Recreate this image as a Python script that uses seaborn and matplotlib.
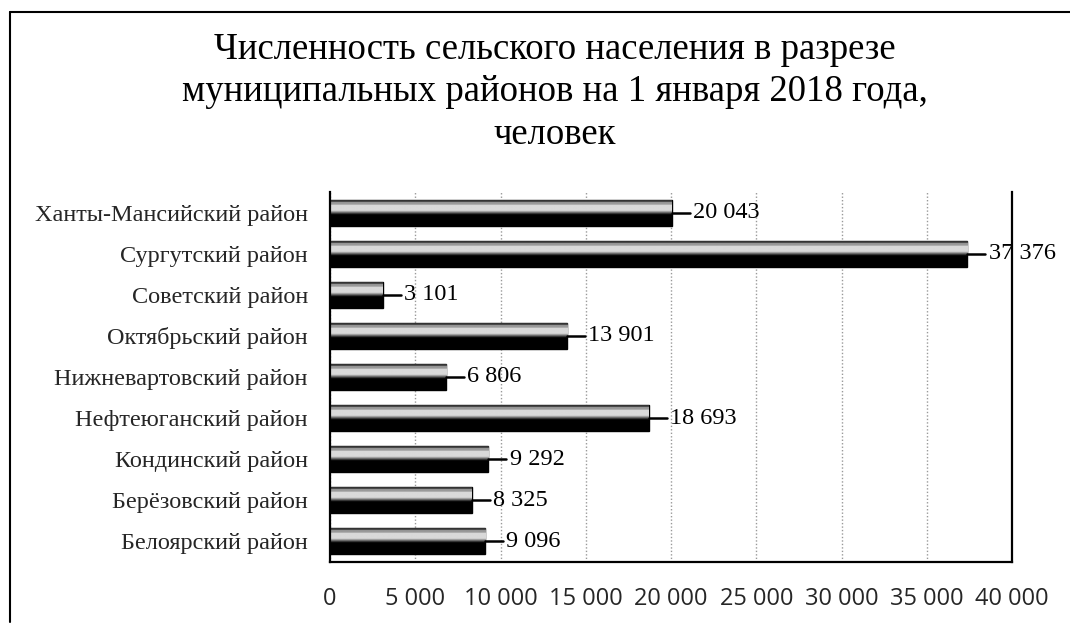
import numpy as np
import pandas as pd
import matplotlib
matplotlib.use("Agg")
import matplotlib.pyplot as plt
from matplotlib.lines import Line2D
import seaborn as sns

categories = ["Ханты-Мансийский район", "Сургутский район", "Советский район",
              "Октябрьский район", "Нижневартовский район", "Нефтеюганский район",
              "Кондинский район", "Берёзовский район", "Белоярский район"]
values = [20043, 37376, 3101, 13901, 6806, 18693, 9292, 8325, 9096]
value_labels = ["20 043", "37 376", "3 101", "13 901", "6 806", "18 693", "9 292", "8 325", "9 096"]
x_ticks = [0, 5000, 10000, 15000, 20000, 25000, 30000, 35000, 40000]
x_tick_labels = ["0", "5 000", "10 000", "15 000", "20 000", "25 000", "30 000", "35 000", "40 000"]
title = "Численность сельского населения в разрезе\nмуниципальных районов на 1 января 2018 года,\nчеловек"

df = pd.DataFrame({"cat": categories, "val": values})

sns.set_theme(style="white")
plt.rcParams["font.family"] = ["Liberation Serif", "DejaVu Serif"]

fig = plt.figure(figsize=(10.7, 6.25), dpi=100)
ax = fig.add_axes([330 / 1070, 1 - 562 / 625, (1012 - 330) / 1070, (562 - 192) / 625])

sns.barplot(data=df, x="val", y="cat", ax=ax, color="black", width=0.63,
            edgecolor="black", linewidth=1, orient="h")

ax.set_xlim(0, 40000)
ax.set_ylim(len(categories) - 0.5, -0.5)

# cylinder-like shading on each bar
grad = np.zeros((100, 1))
rows = np.arange(100) / 99.0
shade = np.where(rows < 0.07, 0.2,
        np.where(rows < 0.18, 0.6,
        np.where(rows < 0.40, 0.85,
        np.where(rows < 0.56, 0.85 - (rows - 0.40) / 0.16 * 0.85, 0.0))))
grad[:, 0] = shade
for p in ax.patches:
    x0, y0 = p.get_x(), p.get_y()
    w, h = p.get_width(), p.get_height()
    im = ax.imshow(grad, cmap="gray", vmin=0, vmax=1, aspect="auto",
                   extent=(x0, x0 + w, y0 + h, y0), origin="upper",
                   interpolation="bilinear", zorder=p.get_zorder() + 0.1)
    im.set_clip_path(p)
ax.set_xlim(0, 40000)
ax.set_ylim(len(categories) - 0.5, -0.5)

# leader lines and value labels
for i, (v, lab) in enumerate(zip(values, value_labels)):
    ax.plot([v, v + 1050], [i, i], color="black", lw=1.8, zorder=5, clip_on=False)
    ax.text(v + 1250, i, lab, va="center", ha="left", fontsize=17.5,
            color="black", zorder=6, clip_on=False)

ax.set_xticks(x_ticks)
ax.set_xticklabels(x_tick_labels, fontfamily=["Open Sans", "DejaVu Sans"], fontsize=17)
ax.tick_params(axis="x", length=0, pad=18)
ax.tick_params(axis="y", length=0, pad=16, labelsize=17.5)
ax.set_xlabel("")
ax.set_ylabel("")
ax.grid(axis="x", color="#999999", linestyle=(0, (1, 1.5)), linewidth=1)
ax.set_axisbelow(True)

for s in ["left", "bottom", "right"]:
    ax.spines[s].set_visible(True)
    ax.spines[s].set_color("black")
    ax.spines[s].set_linewidth(1.6)
ax.spines["top"].set_visible(False)

fig.text(555 / 1070, 1 - 92 / 625, title, ha="center", va="center",
         fontsize=26.5, linespacing=1.3, color="black")

# outer frame (scanned border)
fig.add_artist(Line2D([10 / 1070, 1.0], [1 - 12 / 625, 1 - 12 / 625],
                      transform=fig.transFigure, color="black", lw=1.5))
fig.add_artist(Line2D([10 / 1070, 10 / 1070], [1 - 12 / 625, 1 - 622 / 625],
                      transform=fig.transFigure, color="black", lw=1.5))

fig.savefig("out.png", dpi=100, facecolor="white")
